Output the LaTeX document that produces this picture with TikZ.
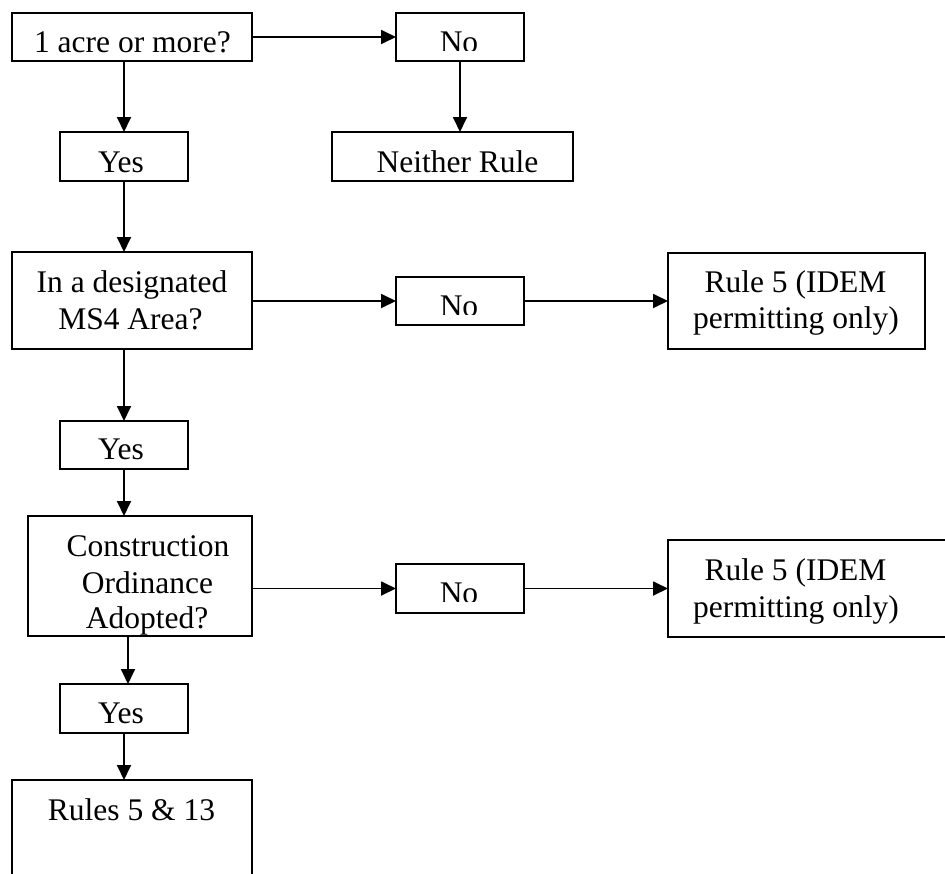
\documentclass[tikz,border=0pt]{standalone}
\usepackage{fontspec}
\setmainfont{Liberation Serif}
\usetikzlibrary{arrows.meta}
\begin{document}
\begin{tikzpicture}[x=1pt,y=-1pt,
  box/.style={draw=black, line width=2pt, rectangle, inner sep=0pt, outer sep=0pt},
  arr/.style={draw=black, line width=1.8pt, -{Triangle[length=15pt,width=14pt]}},
  txt/.style={anchor=base, inner sep=0pt, outer sep=0pt, font=\fontsize{31.5}{36}\selectfont}]
\useasboundingbox (0,0) rectangle (945,873);
\clip (0,0) rectangle (945,873);
\fill[white] (0,0) rectangle (945,873);

% boxes
\node[box, minimum width=240pt, minimum height=48pt] (acre) at (132,37) {};
\node[box, minimum width=128pt, minimum height=48pt] (no1) at (460,37) {};
\node[box, minimum width=128pt, minimum height=49pt] (yes1) at (124,156.5) {};
\node[box, minimum width=241pt, minimum height=49pt] (neither) at (452.5,156.5) {};
\node[box, minimum width=240pt, minimum height=97pt] (ms4) at (132,300.5) {};
\node[box, minimum width=128pt, minimum height=48pt] (no2) at (460,301) {};
\node[box, minimum width=257pt, minimum height=96pt] (rulea) at (796.5,301) {};
\node[box, minimum width=128pt, minimum height=48pt] (yes2) at (124,445) {};
\node[box, minimum width=224pt, minimum height=120pt] (constr) at (140,576) {};
\node[box, minimum width=128pt, minimum height=49pt] (no3) at (460,588.5) {};
\node[box, minimum width=292pt, minimum height=97pt] (ruleb) at (814,588.5) {};
\node[box, minimum width=128pt, minimum height=49pt] (yes3) at (124,708.5) {};
\node[box, minimum width=240pt, minimum height=110pt] (rules) at (132,835) {};

% texts
\node[txt] (tacre) at (132.5,52) {1 acre or more?};
\begin{scope}
  \clip (397,14) rectangle (523,50.5);
  \node[txt] (tno1) at (459,52) {No};
\end{scope}
\node[txt] (tyes1) at (121,172) {Yes};
\node[txt] (tneither) at (457.5,172) {Neither Rule};
\node[txt] (tms4a) at (132,292) {In a designated};
\node[txt] (tms4b) at (130.5,329) {MS4 Area?};
\begin{scope}
  \clip (397,278) rectangle (523,314.5);
  \node[txt] (tno2) at (459,316) {No};
\end{scope}
\node[txt] (trulea1) at (795.5,292) {Rule 5 (IDEM};
\node[txt] (trulea2) at (796,328) {permitting only)};
\node[txt] (tyes2) at (121,459) {Yes};
\node[txt] (tconstr1) at (148,556) {Construction};
\node[txt] (tconstr2) at (147.5,593) {Ordinance};
\node[txt] (tconstr3) at (147,628) {Adopted?};
\begin{scope}
  \clip (397,565) rectangle (523,601.5);
  \node[txt] (tno3) at (459,603.5) {No};
\end{scope}
\node[txt] (truleb1) at (795.5,580) {Rule 5 (IDEM};
\node[txt] (truleb2) at (796,617) {permitting only)};
\node[txt] (tyes3) at (121,723) {Yes};
\node[txt] (trules) at (131.5,820) {Rules 5 \& 13};

% connectors
\draw[arr] (acre.east |- no1.west) -- (no1.west);
\draw[arr] (no1.south) -- (no1.south |- neither.north);
\draw[arr] (yes1.north |- acre.south) -- (yes1.north);
\draw[arr] (yes1.south) -- (yes1.south |- ms4.north);
\draw[arr] (ms4.east |- no2.west) -- (no2.west);
\draw[arr] (no2.east) -- (rulea.west |- no2.east);
\draw[arr] (yes2.north |- ms4.south) -- (yes2.north);
\draw[arr] (yes2.south) -- (yes2.south |- constr.north);
\draw[arr] (constr.east |- no3.west) -- (no3.west);
\draw[arr] (no3.east) -- (ruleb.west |- no3.east);
\draw[arr] ([xshift=4pt]yes3.north |- constr.south) -- ([xshift=4pt]yes3.north);
\draw[arr] (yes3.south) -- (yes3.south |- rules.north);
\end{tikzpicture}
\end{document}
